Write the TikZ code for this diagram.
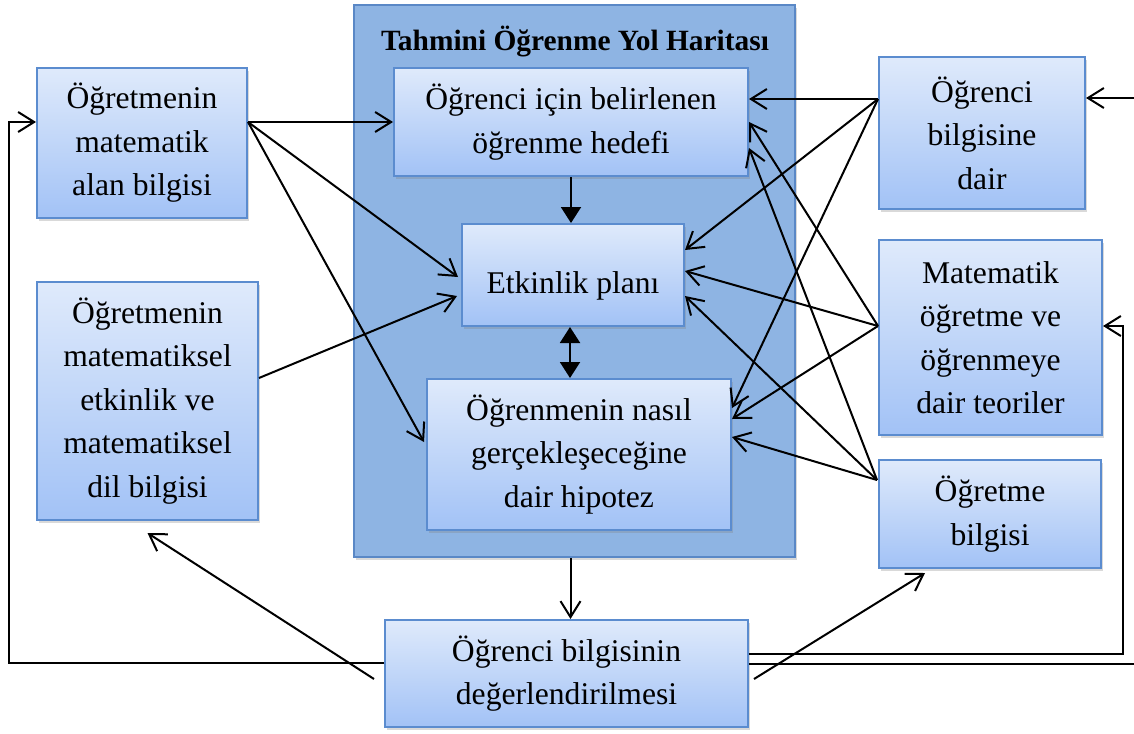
\documentclass[tikz,border=0pt]{standalone}
\usepackage{fontspec}
\setmainfont{Liberation Serif}
\usetikzlibrary{arrows.meta, positioning, calc, shadows}
\definecolor{kutuust}{HTML}{DFEAFB}
\definecolor{kutualt}{HTML}{A2C2F6}
\definecolor{kenar}{HTML}{5B8CCF}
\definecolor{haritafon}{HTML}{8EB4E3}
\definecolor{haritakenar}{HTML}{5A88C6}

\begin{document}
\begin{tikzpicture}[
  x=0.5pt, y=-0.5pt,
  font=\fontsize{15.8}{21.7}\selectfont,
  kutu/.style={draw=kenar, line width=1pt, top color=kutuust, bottom color=kutualt,
               align=center, inner sep=0pt,
               drop shadow={opacity=0.3, shadow xshift=1pt, shadow yshift=-1.5pt}},
  harita/.style={draw=haritakenar, fill=haritafon, line width=1pt, inner sep=0pt,
                 drop shadow={opacity=0.3, shadow xshift=1pt, shadow yshift=-1.5pt}},
  baglanti/.style={draw=black, line width=1pt, -{Straight Barb[length=8pt,width=10pt]}},
  dolu/.style={draw=black, line width=1pt, -{Triangle[length=8pt,width=10pt]}},
  ciftdolu/.style={draw=black, line width=1pt,
                   {Triangle[length=8pt,width=10pt]}-{Triangle[length=8pt,width=10pt]}}
]
\useasboundingbox (0,0) rectangle (1134,733);

% harita
\node[harita, minimum width=220.5pt, minimum height=276pt] (harita) at (574.5,281) {};
\node[font=\fontsize{14.7}{17}\selectfont\bfseries] (baslik) at (575,42) {Tahmini Öğrenme Yol Haritası};

\node[kutu, minimum width=177pt, minimum height=54pt] (B1) at (571,122)
  {Öğrenci için belirlenen\\ öğrenme hedefi};
\node[kutu, minimum width=111pt, minimum height=51pt, text height=22pt, text depth=3.4pt] (B2) at (573,275)
  {Etkinlik planı};
\node[kutu, minimum width=152pt, minimum height=75.5pt] (B3) at (579,454.5)
  {Öğrenmenin nasıl\\ gerçekleşeceğine\\ dair hipotez};

% sol ve sag kutular
\node[kutu, minimum width=105pt, minimum height=75pt] (A1) at (142,143)
  {Öğretmenin\\ matematik\\ alan bilgisi};
\node[kutu, minimum width=110.5pt, minimum height=119pt] (A2) at (147.5,401)
  {Öğretmenin\\ matematiksel\\ etkinlik ve\\ matematiksel\\ dil bilgisi};
\node[kutu, minimum width=103pt, minimum height=76pt] (C1) at (982,133)
  {Öğrenci\\ bilgisine\\ dair};
\node[kutu, minimum width=111.5pt, minimum height=97.5pt] (C2) at (990.5,337.5)
  {Matematik\\ öğretme ve\\ öğrenmeye\\ dair teoriler};
\node[kutu, minimum width=111pt, minimum height=54pt] (C3) at (990,514)
  {Öğretme\\ bilgisi};
\node[kutu, minimum width=181.5pt, minimum height=53.5pt] (D) at (566.5,673.5)
  {Öğrenci bilgisinin\\ değerlendirilmesi};

% harita ici
\draw[dolu] (B1.south) -- (B1.south |- B2.north);
\draw[ciftdolu] ([shift={(-3,0)}]B2.south) -- ([shift={(-3,0)}]B2.south |- B3.north);
\draw[baglanti] ([shift={(-4,0)}]harita.south) -- ([shift={(-4,0)}]harita.south |- D.north);

% soldan gelenler
\coordinate (a1o) at ([shift={(0,-21)}]A1.east);
\draw[baglanti] (a1o) -- (B1.west);
\draw[baglanti] (a1o) -- ([shift={(-3,2)}]B2.west);
\draw[baglanti] (a1o) -- ([shift={(-2,-12.5)}]B3.west);
\draw[baglanti] ([shift={(0,-23)}]A2.east) -- ([shift={(-4,21)}]B2.west);

% sagdan gelenler
\coordinate (c1o) at ([shift={(0,-34)}]C1.west);
\coordinate (c2o) at ([shift={(0,-11.5)}]C2.west);
\coordinate (c3o) at ([shift={(-1,-34)}]C3.west);
\draw[baglanti] (c1o) -- ([shift={(0,-23)}]B1.east);
\draw[baglanti] (c1o) -- ([shift={(0,-25)}]B2.east);
\draw[baglanti] (c1o) -- ([shift={(0,-46.5)}]B3.east);
\draw[baglanti] (c2o) -- (B1.east);
\draw[baglanti] (c2o) -- ([shift={(0,-4)}]B2.east);
\draw[baglanti] (c2o) -- ([shift={(0,-35.5)}]B3.east);
\draw[baglanti] (c3o) -- ([shift={(0,26)}]B1.east);
\draw[baglanti] (c3o) -- ([shift={(0,21)}]B2.east);
\draw[baglanti] (c3o) -- ([shift={(0,-17.5)}]B3.east);

% degerlendirme
\draw[baglanti] ([shift={(-10,5.5)}]D.west) -- ([shift={(0,12)}]A2.south);
\draw[baglanti] ([shift={(5,5.5)}]D.east) -- ([shift={(-65,4)}]C3.south);
\draw[baglanti] ([shift={(0,-10.5)}]D.west) -- ++(-375,0) |- ([shift={(0,-21)}]A1.west);
\draw[baglanti] ([shift={(0,-19.5)}]D.east) -- ++(374,0) |- ([shift={(0,-11.5)}]C2.east);
\coordinate (sagkenar1) at (1134,664);
\coordinate (sagkenar2) at (1134,98);
\draw[line width=1pt] ([shift={(0,-9.5)}]D.east) -- (sagkenar1);
\draw[baglanti] (sagkenar2) -- ([shift={(0,-35)}]C1.east);

\end{tikzpicture}
\end{document}
